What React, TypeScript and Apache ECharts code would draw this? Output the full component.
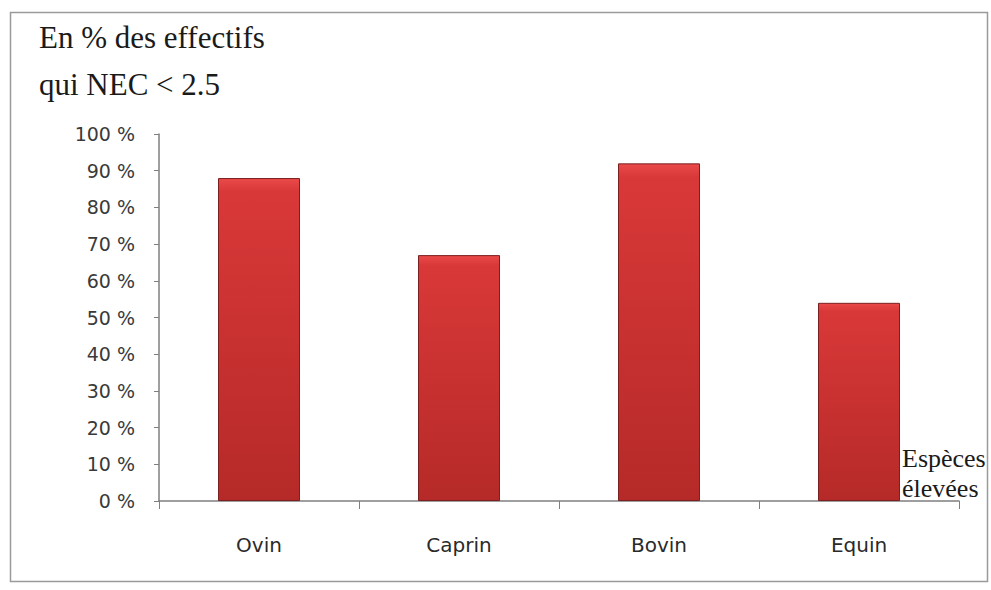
import React, { useEffect, useRef } from "react";
import * as echarts from "echarts";

const categories = ["Ovin", "Caprin", "Bovin", "Equin"];
const values = [88, 67, 92, 54];
const titleLines = ["En % des effectifs", "qui NEC < 2.5"];
const xAxisNameLines = ["Espèces", "élevées"];

const SERIF = '"Liberation Serif", "DejaVu Serif", serif';
const SANS = '"DejaVu Sans", Verdana, sans-serif';

export default function App() {
  const ref = useRef<HTMLDivElement>(null);
  useEffect(() => {
    if (!ref.current) return;
    const chart = echarts.init(ref.current, undefined, { renderer: "svg" });
    chart.setOption({
      animation: false,
      backgroundColor: "#ffffff",
      graphic: [
        {
          type: "rect",
          shape: { x: 10.5, y: 12.5, width: 977, height: 569 },
          style: { fill: "none", stroke: "#9a9a9a", lineWidth: 1.5 },
          silent: true,
        },
        {
          type: "text",
          x: 39,
          y: 37,
          style: { text: titleLines[0], font: "31px " + SERIF, fill: "#1a1a1a", verticalAlign: "middle" },
        },
        {
          type: "text",
          x: 39,
          y: 84,
          style: { text: titleLines[1], font: "31px " + SERIF, fill: "#1a1a1a", verticalAlign: "middle" },
        },
        {
          type: "text",
          x: 902,
          y: 458,
          style: { text: xAxisNameLines[0], font: "26px " + SERIF, fill: "#1a1a1a", verticalAlign: "middle" },
        },
        {
          type: "text",
          x: 902,
          y: 488,
          style: { text: xAxisNameLines[1], font: "26px " + SERIF, fill: "#1a1a1a", verticalAlign: "middle" },
        },
      ],
      grid: { left: 159, right: 32, top: 134, bottom: 89, containLabel: false },
      xAxis: {
        type: "category",
        data: categories,
        axisLine: { lineStyle: { color: "#7f7f7f", width: 1.5 } },
        axisTick: { show: true, length: 8, lineStyle: { color: "#7f7f7f" } },
        axisLabel: {
          margin: 34,
          fontFamily: SANS,
          fontSize: 20,
          color: "#2a2a2a",
        },
      },
      yAxis: {
        type: "value",
        min: 0,
        max: 100,
        interval: 10,
        splitLine: { show: false },
        axisLine: { show: true, lineStyle: { color: "#7f7f7f", width: 1.5 } },
        axisTick: { show: true, length: 5, lineStyle: { color: "#7f7f7f" } },
        axisLabel: {
          formatter: "{value} %",
          margin: 24,
          fontFamily: SANS,
          fontSize: 19,
          color: "#3a3a3a",
        },
      },
      series: [
        {
          type: "bar",
          data: values,
          barWidth: "41%",
          itemStyle: {
            color: new echarts.graphic.LinearGradient(0, 0, 0, 1, [
              { offset: 0, color: "#ea4a4a" },
              { offset: 0.04, color: "#d93838" },
              { offset: 1, color: "#b52a28" },
            ]),
            borderColor: "#7a2020",
            borderWidth: 1,
          },
        },
      ],
    });
    return () => chart.dispose();
  }, []);
  return <div ref={ref} style={{ width: 991, height: 590, position: "absolute", left: 0, top: 0 }} />;
}
